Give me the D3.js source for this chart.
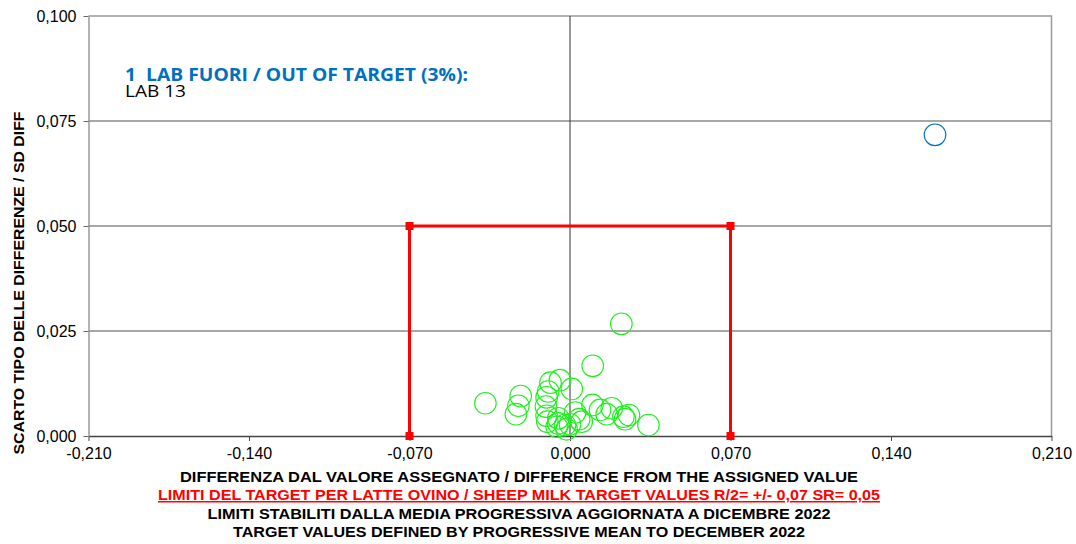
<!DOCTYPE html>
<html>
<head>
<meta charset="utf-8">
<script src="https://cdn.jsdelivr.net/npm/d3@7"></script>
<style>
  body { margin: 0; background: #fff; }
  svg { display: block; }
</style>
</head>
<body>
<script>
// lab results: difference from assigned value (x) vs SD of differences (y)
var labsIn = [
  {x: 0.0224, y: 0.0267}, {x: 0.0099, y: 0.0167}, {x: -0.0369, y: 0.0078},
  {x: -0.0215, y: 0.0095}, {x: -0.0225, y: 0.0072}, {x: -0.0236, y: 0.0052},
  {x: -0.0085, y: 0.0127}, {x: -0.0044, y: 0.0133}, {x: 0.0008, y: 0.0112},
  {x: -0.0095, y: 0.0106}, {x: -0.0102, y: 0.0092}, {x: -0.0105, y: 0.0070},
  {x: -0.0102, y: 0.0048}, {x: -0.0099, y: 0.0034}, {x: -0.0051, y: 0.0042},
  {x: -0.0051, y: 0.0030}, {x: -0.0022, y: 0.0026}, {x: -0.0015, y: 0.0016},
  {x: 0.0000, y: 0.0028}, {x: 0.0022, y: 0.0056}, {x: 0.0040, y: 0.0040},
  {x: 0.0051, y: 0.0034}, {x: 0.0098, y: 0.0074}, {x: 0.0131, y: 0.0062},
  {x: 0.0160, y: 0.0052}, {x: 0.0182, y: 0.0066}, {x: 0.0233, y: 0.0046},
  {x: 0.0257, y: 0.0050}, {x: 0.0240, y: 0.0040}, {x: 0.0342, y: 0.0026},
  {x: -0.0058, y: 0.0022}
];
var labsOut = [ {x: 0.1592, y: 0.0717} ];

// target box R/2 = +/- 0.07, SR = 0.05
var targetBox = [
  {x: -0.07, y: 0}, {x: -0.07, y: 0.05}, {x: 0.07, y: 0.05}, {x: 0.07, y: 0}
];

var xTicks = [-0.21, -0.14, -0.07, 0, 0.07, 0.14, 0.21];
var yTicks = [0, 0.025, 0.05, 0.075, 0.1];

var outTitle = "1  LAB FUORI / OUT OF TARGET (3%):";
var outLabs = "LAB 13";
var yTitle = "SCARTO TIPO DELLE DIFFERENZE / SD DIFF";
var xTitles = [
  "DIFFERENZA DAL VALORE ASSEGNATO / DIFFERENCE FROM THE ASSIGNED VALUE",
  "LIMITI DEL TARGET PER LATTE OVINO / SHEEP MILK TARGET VALUES R/2= +/- 0,07 SR= 0,05",
  "LIMITI STABILITI DALLA MEDIA PROGRESSIVA AGGIORNATA A DICEMBRE 2022",
  "TARGET VALUES DEFINED BY PROGRESSIVE MEAN TO DECEMBER 2022"
];

var width = 1076, height = 544;
var plotLeft = 88.5, plotRight = 1051.5, plotTop = 16, plotBottom = 436;

var locale = d3.formatLocale({decimal: ",", thousands: ".", grouping: [3], currency: ["", ""], minus: "-"});
var fmt = locale.format(".3f");

var svg = d3.select("body").append("svg")
  .attr("width", width)
  .attr("height", height);

var x = d3.scaleLinear().domain([-0.21, 0.21]).range([plotLeft, plotRight]);
var y = d3.scaleLinear().domain([0, 0.1]).range([plotBottom, plotTop]);

// horizontal gridlines
svg.append("g")
  .selectAll("line")
  .data(yTicks.filter(function(d) { return d > 0 && d < 0.1; }))
  .enter().append("line")
  .attr("x1", plotLeft).attr("x2", plotRight)
  .attr("y1", function(d) { return y(d); })
  .attr("y2", function(d) { return y(d); })
  .attr("stroke", "#505050")
  .attr("stroke-width", 1);

// top and right border
svg.append("path")
  .attr("d", "M" + plotLeft + "," + plotTop + "H" + plotRight + "V" + plotBottom)
  .attr("fill", "none")
  .attr("stroke", "#9a9a9a")
  .attr("stroke-width", 1.5);

// vertical line at zero
svg.append("line")
  .attr("x1", x(0)).attr("x2", x(0))
  .attr("y1", plotTop).attr("y2", plotBottom)
  .attr("stroke", "#333")
  .attr("stroke-width", 1);

// x axis
var xAxis = svg.append("g")
  .attr("transform", "translate(0," + plotBottom + ")")
  .call(d3.axisBottom(x).tickValues(xTicks).tickFormat(fmt).tickSizeInner(5).tickSizeOuter(0).tickPadding(7))
  .attr("font-family", "'Liberation Sans', Arial, sans-serif")
  .attr("font-size", 16);
xAxis.select(".domain").attr("stroke", "#444").attr("stroke-width", 1.5);
xAxis.selectAll(".tick line").attr("stroke", "#444");
xAxis.selectAll(".tick text").attr("fill", "#000");

// y axis
var yAxis = svg.append("g")
  .attr("transform", "translate(" + plotLeft + ",0)")
  .call(d3.axisLeft(y).tickValues(yTicks).tickFormat(fmt).tickSizeInner(5).tickSizeOuter(0).tickPadding(7))
  .attr("font-family", "'Liberation Sans', Arial, sans-serif")
  .attr("font-size", 16);
yAxis.select(".domain").attr("stroke", "#9a9a9a").attr("stroke-width", 1.5);
yAxis.selectAll(".tick line").attr("stroke", "#666");
yAxis.selectAll(".tick text").attr("fill", "#000");

// target box
var line = d3.line()
  .x(function(d) { return x(d.x); })
  .y(function(d) { return y(d.y); });

svg.append("path")
  .datum(targetBox)
  .attr("d", line)
  .attr("fill", "none")
  .attr("stroke", "#ff0000")
  .attr("stroke-width", 3);

svg.append("g")
  .selectAll("rect")
  .data(targetBox)
  .enter().append("rect")
  .attr("x", function(d) { return x(d.x) - 4; })
  .attr("y", function(d) { return y(d.y) - 4; })
  .attr("width", 8)
  .attr("height", 8)
  .attr("fill", "#ff0000");

// labs inside target
svg.append("g")
  .selectAll("circle")
  .data(labsIn)
  .enter().append("circle")
  .attr("cx", function(d) { return x(d.x); })
  .attr("cy", function(d) { return y(d.y); })
  .attr("r", 10.8)
  .attr("fill", "none")
  .attr("stroke", "#1ef01e")
  .attr("stroke-width", 1.1);

// labs out of target
svg.append("g")
  .selectAll("circle")
  .data(labsOut)
  .enter().append("circle")
  .attr("cx", function(d) { return x(d.x); })
  .attr("cy", function(d) { return y(d.y); })
  .attr("r", 10.8)
  .attr("fill", "none")
  .attr("stroke", "#0070c0")
  .attr("stroke-width", 1.1);

// out of target note
svg.append("text")
  .attr("x", 125).attr("y", 81)
  .style("white-space", "pre")
  .attr("font-family", "'Open Sans', Lato, sans-serif")
  .attr("font-weight", "bold")
  .attr("font-size", 18)
  .attr("fill", "#0070c0")
  .attr("textLength", 343)
  .attr("lengthAdjust", "spacingAndGlyphs")
  .text(outTitle);

svg.append("text")
  .attr("x", 125).attr("y", 97)
  .attr("font-family", "'Open Sans', Lato, sans-serif")
  .attr("font-size", 17)
  .attr("fill", "#000")
  .attr("textLength", 61)
  .attr("lengthAdjust", "spacingAndGlyphs")
  .text(outLabs);

// y title
svg.append("text")
  .attr("transform", "translate(24,283) rotate(-90)")
  .attr("text-anchor", "middle")
  .attr("font-family", "'Liberation Sans', Arial, sans-serif")
  .attr("font-weight", "bold")
  .attr("font-size", 14)
  .attr("textLength", 343)
  .attr("lengthAdjust", "spacingAndGlyphs")
  .text(yTitle);

// x titles
var titleLens = [678, 722, 623, 572];
var titleY = [482, 500, 519, 537];
svg.append("g")
  .selectAll("text")
  .data(xTitles)
  .enter().append("text")
  .attr("x", 519)
  .attr("y", function(d, i) { return titleY[i]; })
  .attr("text-anchor", "middle")
  .attr("font-family", "'Liberation Sans Narrow', 'Liberation Sans', Arial, sans-serif")
  .attr("font-weight", "bold")
  .attr("font-size", 15)
  .attr("fill", function(d, i) { return i === 1 ? "#ff0000" : "#000"; })
  .attr("text-decoration", function(d, i) { return i === 1 ? "underline" : null; })
  .attr("textLength", function(d, i) { return titleLens[i]; })
  .attr("lengthAdjust", "spacingAndGlyphs")
  .text(function(d) { return d; });
</script>
</body>
</html>
